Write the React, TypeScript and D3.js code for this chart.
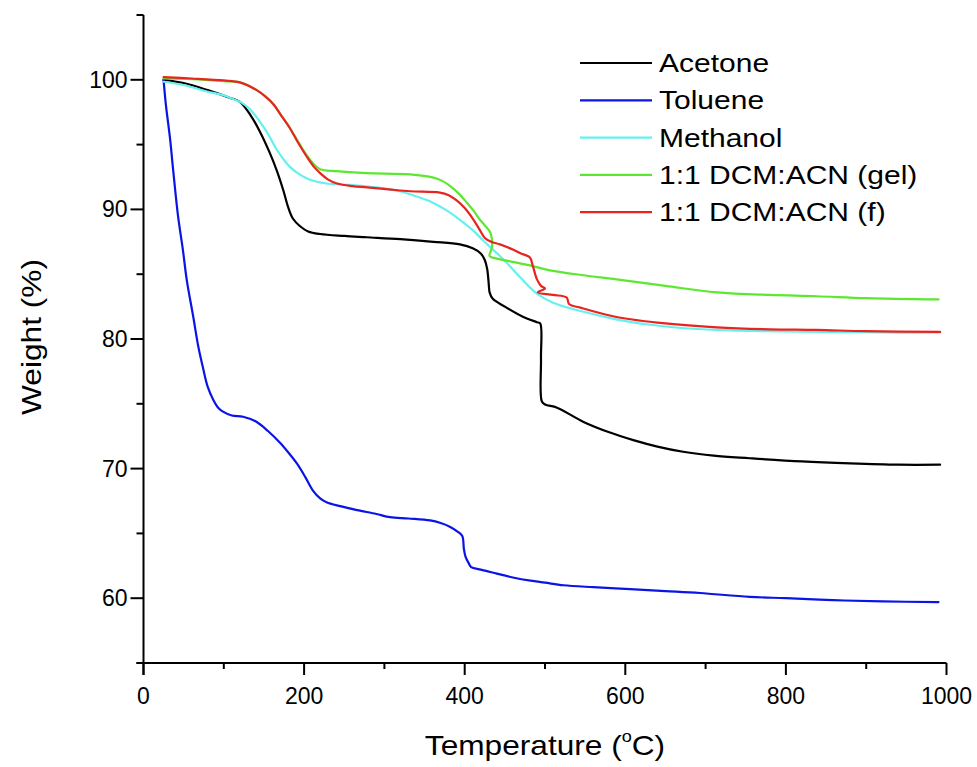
import React from "react";
import * as d3 from "d3";

const acetoneT = [25,50,80,108,120,133,145,157,166,174,180,186,195,205,220,250,278,320,361,394,410,420,425,428,430,431,435,450,473,490,494,495,496,500,515,548,580,610,640,672,710,755,820,880,940,992];
const acetoneW = [100,99.75,99.2,98.6,98.3,97.3,96.0,94.4,93.0,91.5,90.2,89.3,88.7,88.3,88.1,87.95,87.85,87.7,87.5,87.3,87.0,86.6,86.1,85.4,84.2,83.6,83.1,82.5,81.7,81.3,81.2,78.5,75.2,74.95,74.7,73.6,72.8,72.2,71.7,71.3,71.0,70.8,70.55,70.4,70.3,70.3];

const tolueneT = [25,28,33,37,43,49,54,62,68,74,80,87,93,99,110,124,141,155,170,181,191,201,211,220,228,245,266,290,307,330,357,370,382,392,397,399,401,405,408,420,440,460,482,500,523,560,606,650,693,755,800,859,920,990];
const tolueneW = [100,98,95.5,93,89.5,86.9,84.5,81.7,79.5,77.8,76.3,75.3,74.7,74.4,74.1,74.0,73.6,72.9,72.0,71.2,70.4,69.4,68.3,67.7,67.4,67.1,66.8,66.5,66.25,66.15,66.0,65.8,65.5,65.1,64.8,63.8,63.2,62.7,62.4,62.2,61.9,61.6,61.35,61.2,61.0,60.85,60.7,60.55,60.4,60.1,60.0,59.85,59.75,59.7];

const methanolT = [25,50,79,100,112,123,133,141,149,158,166,174,182,192,203,215,228,257,290,319,340,361,378,394,410,423,437,452,470,490,510,548,590,631,670,714,776,850,920,992];
const methanolW = [99.85,99.6,99.1,98.8,98.5,98.2,97.7,97.1,96.4,95.5,94.6,93.9,93.3,92.8,92.4,92.15,92.0,91.9,91.7,91.4,91.0,90.5,89.9,89.2,88.4,87.6,86.8,85.9,84.7,83.5,82.8,82.1,81.5,81.1,80.85,80.7,80.6,80.55,80.5,80.5];

const gelT = [25,60,100,120,141,152,162,172,182,192,203,212,220,240,278,332,361,372,382,393,403,411,419,426,432,434,431,440,452,480,506,550,589,650,714,780,838,900,990];
const gelW = [100.1,100.05,99.9,99.8,99.2,98.7,98.1,97.2,96.3,95.3,94.2,93.5,93.1,92.95,92.8,92.7,92.45,92.2,91.8,91.2,90.5,89.9,89.2,88.7,88.2,87.1,86.4,86.2,86.05,85.7,85.3,84.9,84.6,84.1,83.6,83.4,83.3,83.15,83.05];

const filmT = [25,60,100,120,141,152,162,172,182,192,203,212,220,230,241,260,278,305,332,369,380,390,400,411,418,425,433,444,460,470,481,485,490,495,500,491,510,527,530,545,589,650,714,780,838,900,992];
const filmW = [100.2,100.1,99.95,99.8,99.2,98.7,98.1,97.2,96.3,95.2,94.1,93.3,92.8,92.3,92.0,91.8,91.7,91.55,91.4,91.3,91.1,90.7,90.1,89.2,88.5,87.8,87.5,87.3,86.9,86.6,86.3,85.6,84.6,84.1,83.9,83.6,83.4,83.2,82.7,82.4,81.7,81.2,80.9,80.75,80.7,80.6,80.55];

const seriesNames = ["Acetone", "Toluene", "Methanol", "1:1 DCM:ACN (gel)", "1:1 DCM:ACN (f)"];
const seriesColors = ["#000000", "#0a14e6", "#66f0f0", "#5ce830", "#e8241e"];
const seriesT = [acetoneT, tolueneT, methanolT, gelT, filmT];
const seriesW = [acetoneW, tolueneW, methanolW, gelW, filmW];
const drawOrder = [0, 1, 2, 3, 4];

const xMajor = [0, 200, 400, 600, 800, 1000];
const xMinor = [100, 300, 500, 700, 900];
const yMajor = [60, 70, 80, 90, 100];
const yMinor = [55, 65, 75, 85, 95, 105];

const FONT = "'Liberation Sans', Arial, sans-serif";

export default function App() {
  const x = d3.scaleLinear().domain([0, 1000]).range([143.5, 946.5]);
  const y = d3.scaleLinear().domain([55, 105]).range([663, 15]);
  const line = d3
    .line<[number, number]>()
    .x((d) => x(d[0]))
    .y((d) => y(d[1]))
    .curve(d3.curveCatmullRom.alpha(0.5));

  const legendX0 = 580;
  const legendX1 = 652;
  const legendY0 = 63;
  const legendDy = 37.3;

  return (
    <div style={{ position: "absolute", left: 0, top: 0 }}>
      <svg width={977} height={767} style={{ display: "block", background: "#fff" }}>
        {/* axes */}
        <g stroke="#000" strokeWidth={2} fill="none">
          <line x1={x(0)} x2={x(0)} y1={y(105)} y2={y(55) + 12} />
          <line x1={x(0) - 7} x2={x(1000)} y1={y(55)} y2={y(55)} />
          {xMajor.map((v) => (
            <line key={"xM" + v} x1={x(v)} x2={x(v)} y1={y(55)} y2={y(55) + 12} />
          ))}
          {xMinor.map((v) => (
            <line key={"xm" + v} x1={x(v)} x2={x(v)} y1={y(55)} y2={y(55) + 6} />
          ))}
          {yMajor.map((v) => (
            <line key={"yM" + v} x1={x(0) - 13} x2={x(0)} y1={y(v)} y2={y(v)} />
          ))}
          {yMinor.map((v) => (
            <line key={"ym" + v} x1={x(0) - 7} x2={x(0)} y1={y(v)} y2={y(v)} />
          ))}
        </g>
        <g fontFamily={FONT} fontSize={23} fill="#000">
          {xMajor.map((v) => (
            <text key={"xl" + v} x={x(v)} y={y(55) + 41} textAnchor="middle">
              {v}
            </text>
          ))}
          {yMajor.map((v) => (
            <text key={"yl" + v} x={x(0) - 16} y={y(v)} dy="0.35em" textAnchor="end">
              {v}
            </text>
          ))}
        </g>
        <text
          transform="translate(545,755) scale(1.13,1)"
          textAnchor="middle"
          fontFamily={FONT}
          fontSize={28}
          fill="#000"
        >
          Temperature (<tspan fontSize={16} dy={-13}>o</tspan>
          <tspan dy={13}>C)</tspan>
        </text>
        <text
          transform="translate(41,337) rotate(-90) scale(1.13,1)"
          textAnchor="middle"
          fontFamily={FONT}
          fontSize={28}
          fill="#000"
        >
          Weight (%)
        </text>
        {/* series */}
        <g fill="none" strokeWidth={2.2} strokeLinejoin="round" strokeLinecap="round">
          {drawOrder.map((i) => (
            <path
              key={seriesNames[i]}
              d={line(seriesT[i].map((t, k) => [t, seriesW[i][k]] as [number, number])) || ""}
              stroke={seriesColors[i]}
            />
          ))}
        </g>
        {/* legend */}
        <g>
          {seriesNames.map((n, i) => (
            <g key={n}>
              <line
                x1={legendX0}
                x2={legendX1}
                y1={legendY0 + i * legendDy}
                y2={legendY0 + i * legendDy}
                stroke={seriesColors[i]}
                strokeWidth={2.2}
              />
              <text
                transform={`translate(${legendX1 + 7},${legendY0 + i * legendDy + 9}) scale(1.2,1)`}
                fontFamily={FONT}
                fontSize={25}
                fill="#000"
              >
                {n}
              </text>
            </g>
          ))}
        </g>
      </svg>
    </div>
  );
}
